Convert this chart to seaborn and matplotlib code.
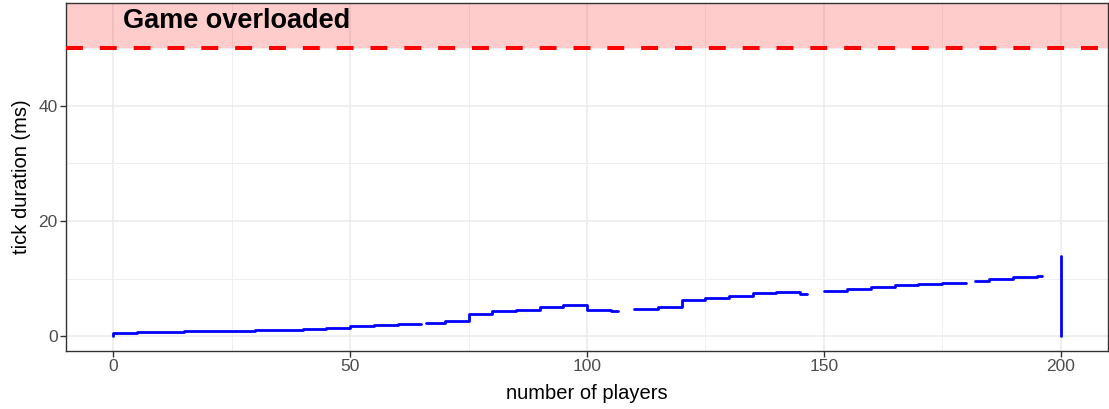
import numpy as np
import pandas as pd
import seaborn as sns
import matplotlib.pyplot as plt

# tick duration (ms) per block of players; a new run starts where data is missing
run_id = [1, 1, 1, 1, 1, 1, 1, 1, 1, 1, 1, 1, 1, 1,
          2, 2, 2, 2, 2, 2, 2, 2, 2,
          3, 3, 3, 3, 3, 3, 3, 3,
          4, 4, 4, 4, 4, 4,
          5, 5, 5, 5,
          6, 6]
block_start = [0, 0, 5, 10, 15, 20, 25, 30, 35, 40, 45, 50, 55, 60,
               66, 70, 75, 80, 85, 90, 95, 100, 105,
               110, 115, 120, 125, 130, 135, 140, 145,
               150, 155, 160, 165, 170, 175,
               182, 185, 190, 195,
               200, 200]
block_end = [0, 5, 10, 15, 20, 25, 30, 35, 40, 45, 50, 55, 60, 65,
             70, 75, 80, 85, 90, 95, 100, 105, 106.5,
             115, 120, 125, 130, 135, 140, 145, 146.5,
             155, 160, 165, 170, 175, 180,
             185, 190, 195, 196,
             200, 200]
tick_ms = [0.0, 0.55, 0.7, 0.85, 0.95, 0.95, 0.95, 1.05, 1.15, 1.3, 1.55, 1.75, 1.95, 2.2,
           2.35, 2.6, 3.95, 4.35, 4.6, 5.05, 5.4, 4.6, 4.5,
           4.7, 5.05, 6.35, 6.65, 7.0, 7.45, 7.75, 7.3,
           7.9, 8.2, 8.65, 8.85, 9.05, 9.35,
           9.7, 9.9, 10.35, 10.55,
           0.0, 14.0]

limit_ms = 50
label_text = "Game overloaded"

rows = []
for r, s, e, v in zip(run_id, block_start, block_end, tick_ms):
    for x in (s, e):
        rows.append({"run": r, "players": x, "ms": v})
df = pd.DataFrame(rows)

sns.set_theme(style="whitegrid")
plt.rcParams['font.family'] = ['Liberation Sans', 'DejaVu Sans']

fig = plt.figure(figsize=(11.09, 4.09), dpi=100)
ax = fig.add_axes([0.0595, 0.142, 0.9395, 0.851])

ax.axhspan(limit_ms, 100, color="red", alpha=0.2, lw=0, zorder=1)
ax.axhline(limit_ms, color="red", lw=2.9, ls=(0, (4.2, 4.2)), zorder=3)

sns.lineplot(data=df, x="players", y="ms", units="run", estimator=None,
             sort=False, color="blue", lw=2.0, ax=ax, zorder=4)

ax.text(26, 54.6, label_text, ha="center", va="center", fontsize=19.5,
        fontweight="bold", color="black", zorder=5)

ax.set_xlim(-10, 210)
ax.set_ylim(-2.5, 57.8)
ax.set_xticks([0, 50, 100, 150, 200])
ax.set_xticks([25, 75, 125, 175], minor=True)
ax.set_yticks([0, 20, 40])
ax.set_yticks([10, 30, 50], minor=True)
ax.grid(which="major", color="#EBEBEB", lw=1.1)
ax.grid(which="minor", color="#EFEFEF", lw=0.7)
ax.set_axisbelow(True)

for sp in ax.spines.values():
    sp.set_visible(True)
    sp.set_color("#333333")
    sp.set_linewidth(1.0)

ax.tick_params(axis="both", which="major", length=4, width=1, color="#333333",
               labelsize=12.5, labelcolor="#4D4D4D", pad=2, left=True, bottom=True)
ax.tick_params(which="minor", length=0)

ax.set_xlabel("number of players", fontsize=14.5, color="black", labelpad=7)
ax.set_ylabel("tick duration (ms)", fontsize=14.5, color="black", labelpad=5)

fig.savefig("out.png", dpi=100)
